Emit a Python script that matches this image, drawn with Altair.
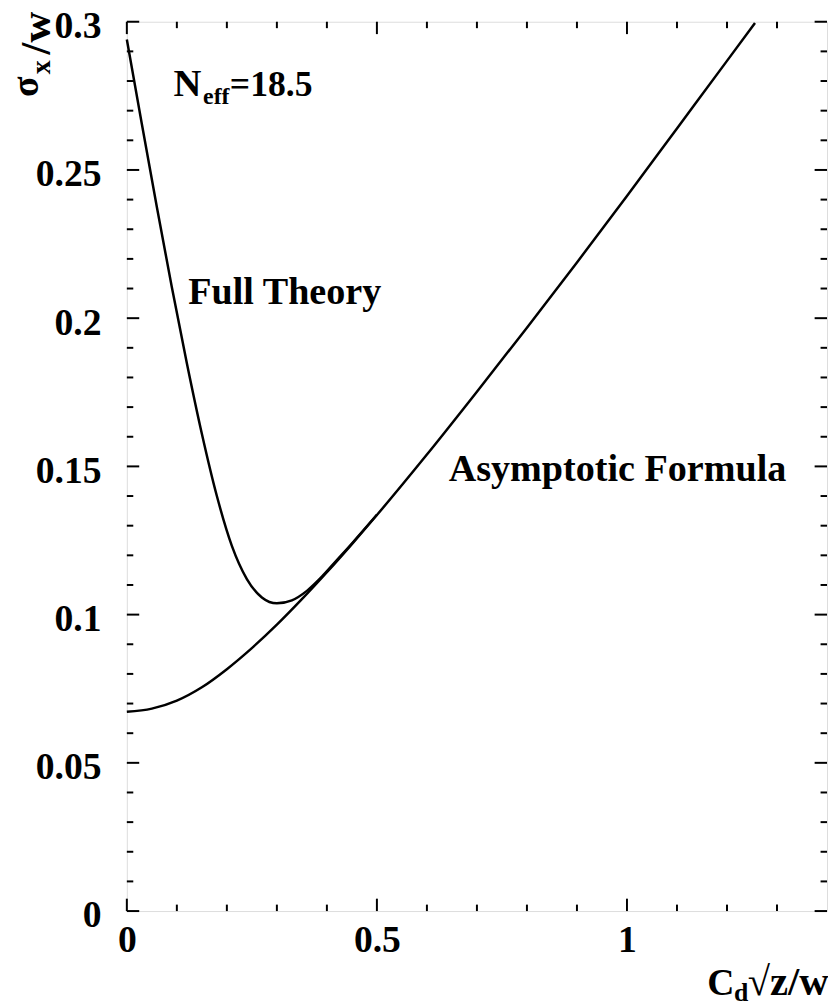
import altair as alt
import pandas as pd

# ---- data ----
asym_x = [0.0, 0.05, 0.10, 0.15, 0.20, 0.25, 0.30, 0.35, 0.40, 0.45, 0.50, 0.60, 0.70, 0.80, 0.90, 1.00, 1.10, 1.20, 1.256]
asym_y = [0.0672, 0.0683, 0.0710, 0.0755, 0.0816, 0.0887, 0.0966, 0.1052, 0.1143, 0.1238, 0.1336, 0.1540, 0.1752, 0.1968, 0.2188, 0.2412, 0.2640, 0.2868, 0.2996]

full_x = [0.0, 0.03, 0.06, 0.09, 0.12, 0.15, 0.18, 0.21, 0.24, 0.27, 0.30, 0.33, 0.36, 0.39, 0.42, 0.45, 0.50]
full_y = [0.2940, 0.2655, 0.2375, 0.2104, 0.1848, 0.1610, 0.1400, 0.1232, 0.1120, 0.1058, 0.1038, 0.1048, 0.1080, 0.1128, 0.1184, 0.1240, 0.1337]

x_major = [0, 0.5, 1]
x_minor = [0.1, 0.2, 0.3, 0.4, 0.6, 0.7, 0.8, 0.9, 1.1, 1.2, 1.3]
y_major = [0, 0.05, 0.1, 0.15, 0.2, 0.25, 0.3]
y_minor = [i / 100 for i in range(1, 30) if i % 5 != 0]

label_full = "Full Theory"
label_asym = "Asymptotic Formula"
neff_main, neff_sub, neff_val = "N", "eff", "=18.5"
ytitle_main, ytitle_sub, ytitle_rest = "σ", "x", "/w"
xtitle_main, xtitle_sub, xtitle_rest = "C", "d", "√z/w"

FONT = "Liberation Serif"
W, H = 707, 898
OX, OY = 128, 17  # page position of plot origin


def px(x):
    return x - OX


def py(y):
    return y - OY


xs = alt.Scale(domain=[0, 1.4], nice=False, zero=False)
ys = alt.Scale(domain=[0, 0.3], nice=False, zero=False)

axis_common = dict(
    labelFont=FONT, labelFontWeight="bold", labelFontSize=38, labelColor="black",
    ticks=False, tickSize=0, domain=False, grid=False, title=None, labelFlush=False,
    labelOverlap=False,
)
X_AX = alt.Axis(values=x_major, format="~g", labelPadding=11, **axis_common)
Y_AX = alt.Axis(values=y_major, format="~g", labelPadding=26, labelOffset=5, **axis_common)

curves = pd.concat([
    pd.DataFrame({"x": full_x, "y": full_y, "s": "full"}),
    pd.DataFrame({"x": asym_x, "y": asym_y, "s": "asym"}),
])

lines = alt.Chart(curves).mark_line(color="black", strokeWidth=2.5, interpolate="monotone").encode(
    x=alt.X("x:Q", scale=xs, axis=X_AX),
    y=alt.Y("y:Q", scale=ys, axis=Y_AX),
    detail="s:N",
)

MAJ, MIN = 12.5, 6.5


def xticks(vals, length):
    df = pd.DataFrame({"x": vals})
    base = alt.Chart(df).mark_rule(color="black", strokeWidth=2)
    bottom = base.encode(x=alt.X("x:Q", scale=xs, axis=X_AX), y=alt.value(H), y2=alt.value(H - length))
    top = base.encode(x=alt.X("x:Q", scale=xs, axis=X_AX), y=alt.value(0), y2=alt.value(length))
    return [bottom, top]


def yticks(vals, length):
    df = pd.DataFrame({"y": vals})
    base = alt.Chart(df).mark_rule(color="black", strokeWidth=2)
    left = base.encode(y=alt.Y("y:Q", scale=ys, axis=Y_AX), x=alt.value(0), x2=alt.value(length))
    right = base.encode(y=alt.Y("y:Q", scale=ys, axis=Y_AX), x=alt.value(W), x2=alt.value(W - length))
    return [left, right]


tick_layers = xticks(x_major, MAJ) + xticks(x_minor, MIN) + yticks(y_major, MAJ) + yticks(y_minor, MIN)


def text(t, x, y, size, align="left", angle=0, baseline="alphabetic"):
    return alt.Chart(pd.DataFrame({"t": [t]})).mark_text(
        font=FONT, fontWeight="bold", fontSize=size, color="black",
        align=align, baseline=baseline, angle=angle,
    ).encode(x=alt.value(x), y=alt.value(y), text="t:N")


texts = [
    text(label_full, px(190), py(302), 38.5),
    text(label_asym, px(453), py(481), 38.5),
    text(neff_main, px(175), py(92), 39),
    text(neff_sub, px(205), py(100), 24),
    text(neff_val, px(232), py(92), 36),
    # y title (rotated)
    text(ytitle_main, px(38), py(93), 38, angle=270),
    text(ytitle_sub, px(50), py(70), 28, angle=270),
    text(ytitle_rest, px(50), py(50), 43, angle=270),
    # x title
    text(xtitle_main, px(714), py(1000), 38),
    text(xtitle_sub, px(741), py(1006), 26),
    text(xtitle_rest, px(755), py(1000), 41),
]

chart = alt.layer(lines, *tick_layers, *texts).properties(
    width=W, height=H,
    autosize=alt.AutoSizeParams(type="none"),
    padding={"left": 120, "top": 9, "right": 1, "bottom": 91},
).configure_view(stroke="black", strokeWidth=2.5, strokeOpacity=1).configure(background="white")

chart.save("out.html", embed_options={"renderer": "svg", "actions": False})
